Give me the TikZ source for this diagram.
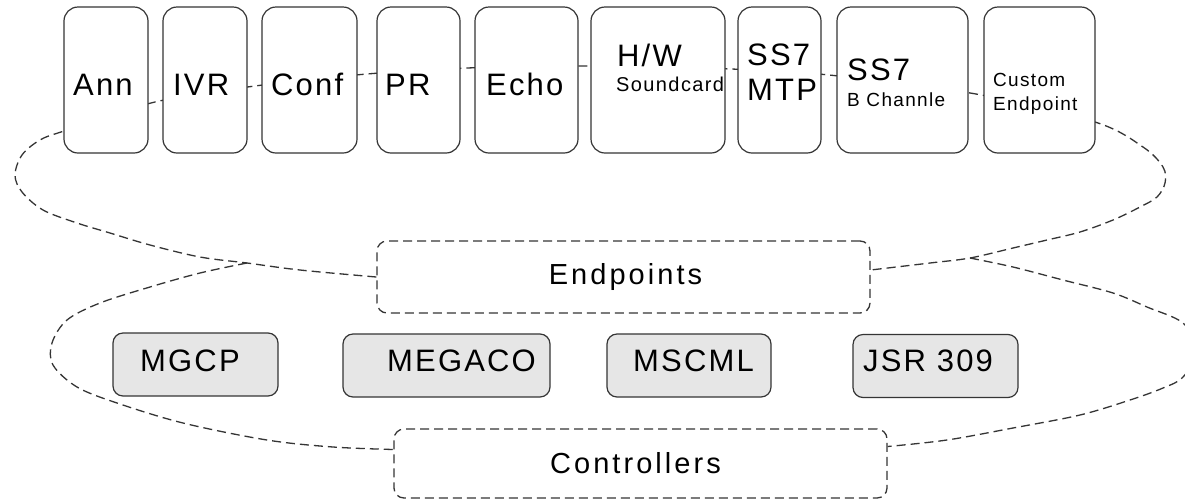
\documentclass[tikz,border=0pt]{standalone}
\usepackage{fontspec}
\setmainfont{Liberation Sans}[LetterSpace=7]
\usetikzlibrary{backgrounds}
\definecolor{ln}{HTML}{353535}
\definecolor{pfill}{HTML}{E6E6E6}
\begin{document}
\begin{tikzpicture}[x=1pt,y=-1pt,
 tbox/.style={draw=ln, line width=1.2pt, rounded corners=14pt, fill=white, inner sep=0pt},
 pbox/.style={draw=ln, line width=1.2pt, rounded corners=10pt, fill=pfill, inner sep=0pt, minimum height=63pt},
 dbox/.style={draw=ln, line width=1.3pt, dash pattern=on 9pt off 5pt, rounded corners=10pt, inner sep=0pt, font=\fontsize{29}{35}\selectfont\addfontfeature{LetterSpace=10.5}},
 conn/.style={draw=ln, line width=1.3pt, dash pattern=on 9pt off 5pt},
 big/.style={font=\fontsize{31}{37}\selectfont, inner sep=0pt, anchor=base west},
 small/.style={font=\fontsize{19}{23}\selectfont, inner sep=0pt, anchor=base west}]
\useasboundingbox (0,0) rectangle (1185,499);
% top boxes
\node[tbox, minimum width=84pt,  minimum height=146pt] (ann)  at (106,80) {};
\node[tbox, minimum width=84pt,  minimum height=146pt] (ivr)  at (205,80) {};
\node[tbox, minimum width=95pt,  minimum height=146pt] (conf) at (309.5,80) {};
\node[tbox, minimum width=83pt,  minimum height=146pt] (pr)   at (418.5,80) {};
\node[tbox, minimum width=103pt, minimum height=146pt] (echo) at (526.5,80) {};
\node[tbox, minimum width=134pt, minimum height=146pt] (hw)   at (658,80) {};
\node[tbox, minimum width=83pt,  minimum height=146pt] (mtp)  at (779.5,80) {};
\node[tbox, minimum width=131pt, minimum height=146pt] (bch)  at (902.5,80) {};
\node[tbox, minimum width=111pt, minimum height=146pt] (cust) at (1039.5,80) {};
\node[big] (annT)  at (73,95)  {Ann};
\node[big] (ivrT)  at (173,95) {IVR};
\node[big] (confT) at (271,95) {Conf};
\node[big] (prT)   at (385,95) {PR};
\node[big] (echoT) at (486,95) {Echo};
\node[big] (hwT)   at (617,66) {H/W};
\node[small, font=\fontsize{20}{24}\selectfont] (hwS) at (616,91) {Soundcard};
\node[big] (mtpT)  at (747,65) {SS7};
\node[big] (mtpS)  at (747,100) {MTP};
\node[big] (bchT)  at (847,80) {SS7};
\node[small] (bchS) at (847,106) {B Channle};
\node[small] (custT) at (993,86) {Custom};
\node[small] (custS) at (993,110) {Endpoint};
% middle / bottom
\node[dbox, minimum width=493pt, minimum height=72pt] (ep)  at (623.5,277) {\hspace*{4pt}Endpoints};
\node[dbox, minimum width=493pt, minimum height=69pt] (ctl) at (640.5,463.5) {\hspace*{-10pt}Controllers};
\node[pbox, minimum width=165pt] (mgcp)   at (195.5,364.5) {};
\node[pbox, minimum width=207pt] (megaco) at (446.5,365.5) {};
\node[pbox, minimum width=164pt] (mscml)  at (689,365.5) {};
\node[pbox, minimum width=165pt] (jsr)    at (935.5,366) {};
\node[big] (mgcpT)   at (140,371) {MGCP};
\node[big] (megacoT) at (387,371) {MEGACO};
\node[big] (mscmlT)  at (633,371) {MSCML};
\node[big] (jsrT)    at (863,371) {JSR 309};
\coordinate (bl) at (247,263);
\coordinate (br) at (970,258);
\begin{scope}[on background layer]
\clip (0,0) rectangle (1185,499);
\fill[white] (0,0) rectangle (1185,499);
\draw[conn] plot[smooth, tension=0.55] coordinates {(ep.west) (300,270) (bl) (200,257) (150,245) (110,233) (77,223) (43,210) (22,192) (15,175) (22,155) (40,140) (64,131) (155,102) (255,86) (367,74) (467,68) (585,66) (731,69) (829,75) (976,94) (1095,122) (1143,147) (1163,167) (1165,183) (1157,197) (1140,207) (1113,220) (1080,232) (1047,240) (1013,248) (br) (930,263) ([yshift=7pt]ep.east)};
\draw[conn] plot[smooth, tension=0.55] coordinates {(bl) (200,273) (150,287) (100,303) (67,320) (52,343) (53,365) (77,387) (117,403) (183,423) (267,440) (333,447) ([yshift=14pt]ctl.west)};
\draw[conn] plot[smooth, tension=0.55] coordinates {(br) (1013,267) (1063,280) (1113,293) (1147,307) (1183,323) (1198,350) (1183,377) (1163,388) (1130,400) (1080,415) (1013,428) (947,440) ([yshift=17pt]ctl.east)};
\end{scope}
\end{tikzpicture}
\end{document}
